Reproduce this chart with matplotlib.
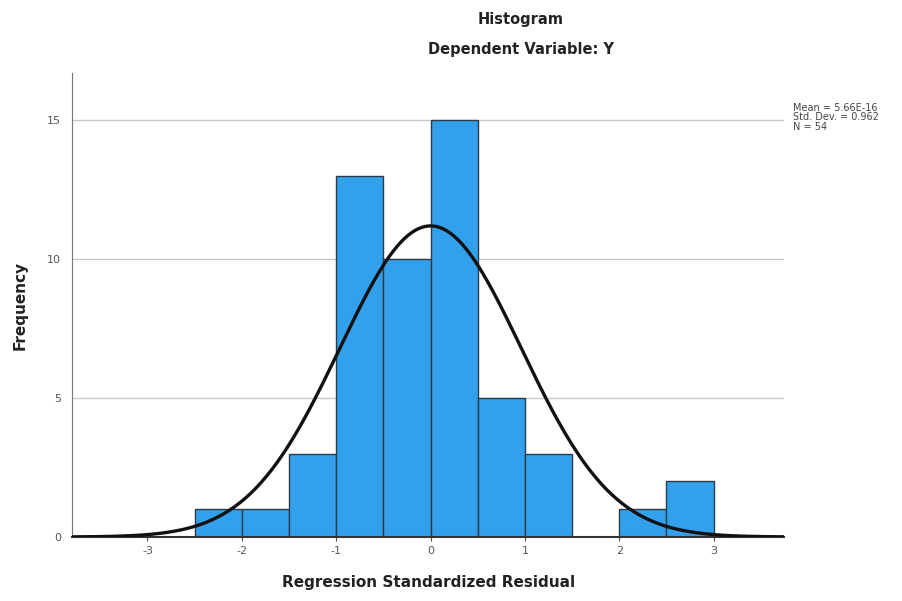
import numpy as np
import matplotlib.pyplot as plt

plt.rcParams['axes.unicode_minus'] = False

# histogram of regression standardized residuals
bin_edges = [-2.5, -2.0, -1.5, -1.0, -0.5, 0.0, 0.5, 1.0, 1.5, 2.0, 2.5, 3.0]
counts = [1, 1, 3, 13, 10, 15, 5, 3, 0, 1, 2]
mean = 5.66e-16
std = 0.962
n = 54

fig = plt.figure(figsize=(9.03, 6.01), dpi=100)
ax = fig.add_axes([0.0797, 0.1065, 0.789, 0.772])

lefts = np.array(bin_edges[:-1])
widths = np.diff(bin_edges)
ax.bar(lefts, counts, width=widths, align='edge', color='#33a0ec',
       edgecolor='#2a3b4c', linewidth=1.0, zorder=2)

# normal curve scaled to counts
xs = np.linspace(-3.8, 3.75, 400)
bw = widths[0]
ys = n * bw / (std * np.sqrt(2 * np.pi)) * np.exp(-0.5 * ((xs - mean) / std) ** 2)
ax.plot(xs, ys, color='#111111', linewidth=2.4, zorder=3)

ax.set_xlim(-3.8, 3.75)
ax.set_ylim(0, 16.7)
ax.set_xticks([-3, -2, -1, 0, 1, 2, 3])
ax.set_yticks([0, 5, 10, 15])
for yv in [5, 10, 15]:
    ax.axhline(yv, color='#c8c8c8', linewidth=1.0, zorder=1)

ax.spines['top'].set_visible(False)
ax.spines['right'].set_visible(False)
ax.spines['left'].set_color('#777777')
ax.spines['bottom'].set_color('#333333')
ax.spines['bottom'].set_linewidth(1.5)
ax.tick_params(axis='both', labelsize=8, colors='#555555', length=3)
ax.tick_params(axis='y', length=0, pad=8)

ax.set_ylabel('Frequency', fontsize=11, fontweight='bold', color='#222222', labelpad=14)
ax.set_xlabel('Regression Standardized Residual', fontsize=11, fontweight='bold',
              color='#222222', labelpad=14)

fig.text(0.577, 0.967, 'Histogram', ha='center', va='center', fontsize=10.5,
         fontweight='bold', color='#222222')
fig.text(0.577, 0.917, 'Dependent Variable: Y', ha='center', va='center', fontsize=10.5,
         fontweight='bold', color='#222222')

fig.text(0.878, 0.805, 'Mean = 5.66E-16\nStd. Dev. = 0.962\nN = 54', ha='left', va='center',
         fontsize=7, color='#444444', linespacing=0.95)

fig.savefig('out.png', dpi=100)
